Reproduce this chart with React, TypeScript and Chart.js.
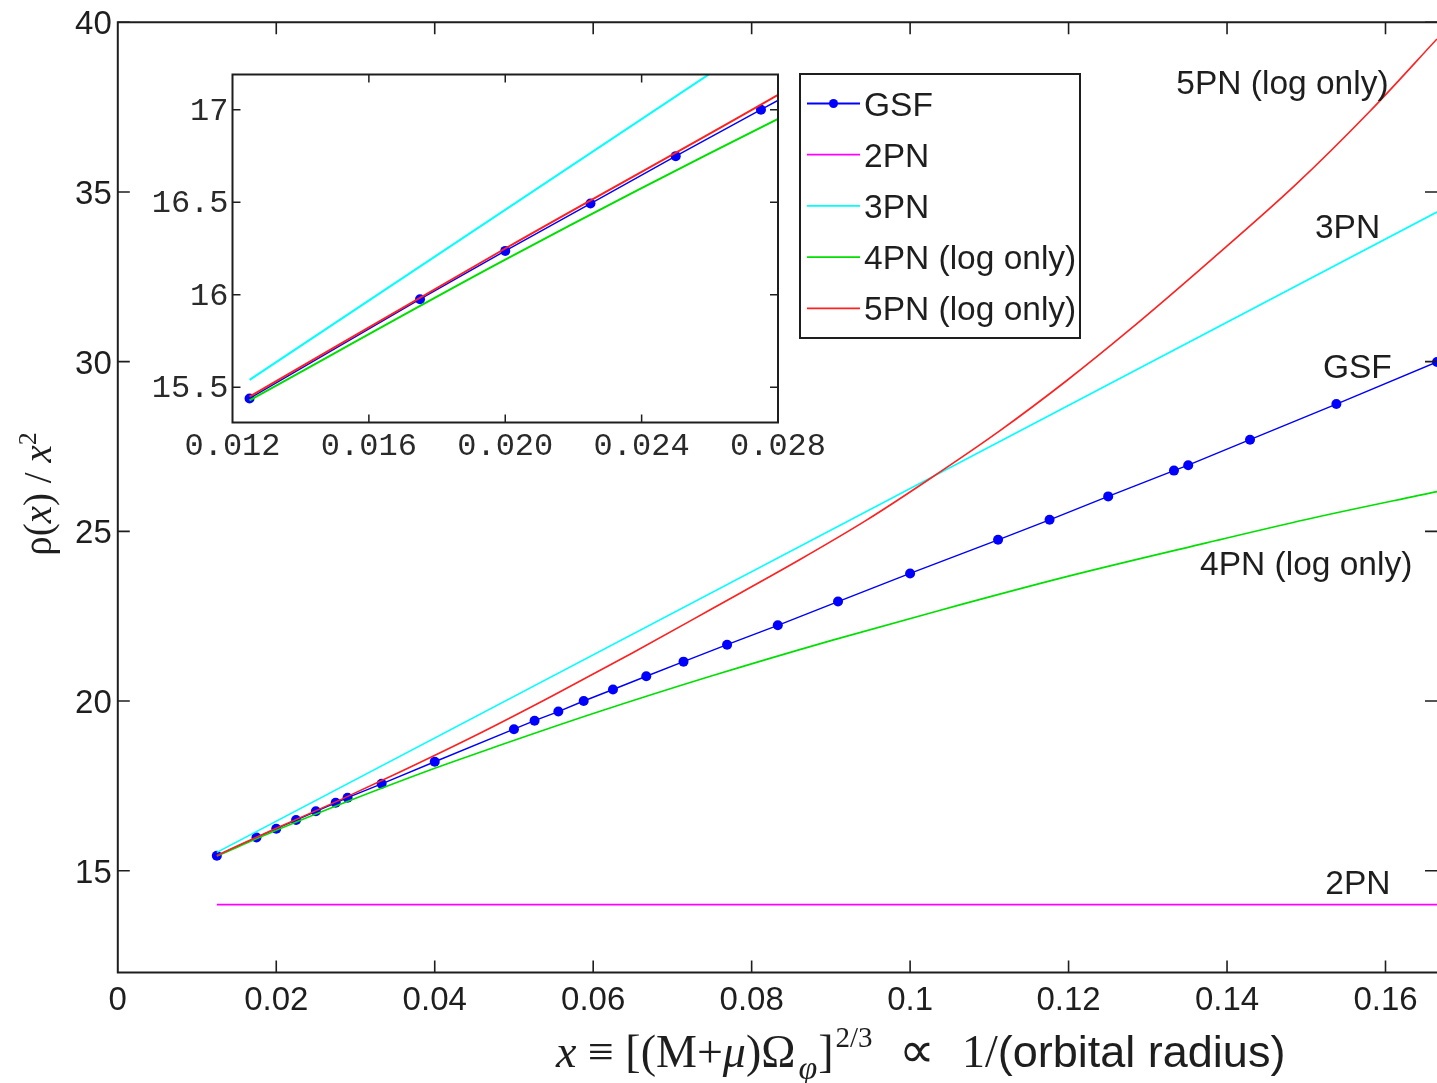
import React, { useEffect, useRef } from 'react';
import { Chart, registerables } from 'chart.js';

Chart.register(...registerables);

const W = 1437;
const H = 1083;

// ---------------- data ----------------
const GSF_X = [0.0125, 0.0175, 0.02, 0.0225, 0.025, 0.0275, 0.029, 0.0333, 0.04, 0.05, 0.0526, 0.0556, 0.0588, 0.0625, 0.0667, 0.0714, 0.0769, 0.0833, 0.0909, 0.1, 0.1111, 0.1176, 0.125, 0.1333, 0.1351, 0.1429, 0.1538, 0.1665];
const GSF_Y = [15.44, 15.976, 16.237, 16.493, 16.749, 17.0, 17.15, 17.56, 18.21, 19.17, 19.42, 19.69, 20.0, 20.34, 20.73, 21.16, 21.66, 22.23, 22.93, 23.76, 24.75, 25.34, 26.03, 26.79, 26.95, 27.7, 28.75, 29.99];

const PN2_X = [0.0125, 0.1665];
const PN2_Y = [14.0, 14.0];

const PN3_X = [0.0125, 0.1665];
const PN3_Y = [15.54, 34.41];

const PN4_X = [0.0125, 0.02, 0.028, 0.04, 0.0457, 0.06, 0.0751, 0.09, 0.1037, 0.12, 0.1374, 0.15, 0.1665];
const PN4_Y = [15.43, 16.19, 16.95, 18.02, 18.49, 19.63, 20.75, 21.78, 22.67, 23.68, 24.66, 25.35, 26.17];

const PN5_X = [0.0125, 0.02, 0.028, 0.035, 0.0457, 0.055, 0.065, 0.075, 0.0861, 0.0945, 0.1025, 0.1113, 0.1197, 0.1276, 0.138, 0.1486, 0.158, 0.1665];
const PN5_Y = [15.45, 16.25, 17.08, 17.84, 19.05, 20.17, 21.42, 22.72, 24.17, 25.33, 26.55, 27.96, 29.43, 30.92, 33.0, 35.2, 37.37, 39.51];

const SERIES_LABELS = ['GSF', '2PN', '3PN', '4PN (log only)', '5PN (log only)'];
const SERIES_COLORS = ['#0000ff', '#ff00ff', '#00ffff', '#00e000', '#ff2020'];

const MAIN_X_TICKS = [0, 0.02, 0.04, 0.06, 0.08, 0.1, 0.12, 0.14, 0.16];
const MAIN_X_TICK_LABELS = ['0', '0.02', '0.04', '0.06', '0.08', '0.1', '0.12', '0.14', '0.16'];
const MAIN_Y_TICKS = [15, 20, 25, 30, 35, 40];
const MAIN_Y_TICK_LABELS = ['15', '20', '25', '30', '35', '40'];

const INSET_X_TICKS = [0.012, 0.016, 0.02, 0.024, 0.028];
const INSET_X_TICK_LABELS = ['0.012', '0.016', '0.020', '0.024', '0.028'];
const INSET_Y_TICKS = [15.5, 16, 16.5, 17];
const INSET_Y_TICK_LABELS = ['15.5', '16', '16.5', '17'];

// curve annotations (text + anchor in data units)
const NOTE_TEXTS = ['5PN (log only)', '3PN', 'GSF', '4PN (log only)', '2PN'];
const NOTE_X = [0.1336, 0.1511, 0.1521, 0.1366, 0.1524];
const NOTE_Y = [38.24, 33.99, 29.86, 24.08, 14.68];

// ---------------- styles ----------------
const INK = '#1e1e1e';
const SANS = '"Liberation Sans", Arial, sans-serif';
const SERIF = '"Liberation Serif", "Times New Roman", serif';
const MONO = '"Liberation Mono", "Courier New", monospace';

const pts = (xs: number[], ys: number[]) => xs.map((x, i) => ({ x, y: ys[i] }));

type Piece = { t: string; f: string; dy?: number; at?: number; gap?: number };

function piecesWidth(ctx: CanvasRenderingContext2D, pieces: Piece[]) {
  let w = 0;
  for (const p of pieces) {
    ctx.font = p.f;
    w += ctx.measureText(p.t).width + (p.gap || 0);
  }
  return w;
}
function drawPieces(ctx: CanvasRenderingContext2D, pieces: Piece[], x: number, y: number) {
  let cx = x;
  for (const p of pieces) {
    if (p.at !== undefined) cx = Math.max(cx, p.at);
    ctx.font = p.f;
    ctx.fillText(p.t, cx, y + (p.dy || 0));
    cx += ctx.measureText(p.t).width + (p.gap || 0);
  }
}

function makeDatasets(inset: boolean) {
  const lw = inset ? 2 : 1.6;
  return [
    {
      label: SERIES_LABELS[0],
      data: pts(GSF_X, GSF_Y),
      borderColor: SERIES_COLORS[0],
      backgroundColor: SERIES_COLORS[0],
      borderWidth: 1.4,
      pointRadius: 5,
      pointBackgroundColor: SERIES_COLORS[0],
      pointBorderColor: SERIES_COLORS[0],
      pointBorderWidth: 0,
      order: 5,
      clip: 0,
    },
    {
      label: SERIES_LABELS[1],
      data: pts(PN2_X, PN2_Y),
      borderColor: SERIES_COLORS[1],
      borderWidth: lw,
      pointRadius: 0,
      order: 4,
      clip: 0,
    },
    {
      label: SERIES_LABELS[2],
      data: pts(PN3_X, PN3_Y),
      borderColor: SERIES_COLORS[2],
      borderWidth: lw,
      pointRadius: 0,
      order: 3,
      clip: 0,
    },
    {
      label: SERIES_LABELS[3],
      data: pts(PN4_X, PN4_Y),
      borderColor: SERIES_COLORS[3],
      borderWidth: lw,
      pointRadius: 0,
      cubicInterpolationMode: 'monotone',
      order: 2,
      clip: 0,
    },
    {
      label: SERIES_LABELS[4],
      data: pts(PN5_X, PN5_Y),
      borderColor: SERIES_COLORS[4],
      borderWidth: lw,
      pointRadius: 0,
      cubicInterpolationMode: 'monotone',
      order: 1,
      clip: 0,
    },
  ];
}

const mainDeco = {
  id: 'mainDeco',
  beforeDraw(chart: any) {
    const { ctx, width, height } = chart;
    ctx.save();
    ctx.fillStyle = '#ffffff';
    ctx.fillRect(0, 0, width, height);
    ctx.restore();
  },
  afterDraw(chart: any) {
    const { ctx, chartArea: a } = chart;
    const xs = chart.scales.x;
    const ys = chart.scales.y;
    const TL = 12;
    ctx.save();
    // frame
    ctx.strokeStyle = INK;
    ctx.lineWidth = 2;
    ctx.beginPath();
    ctx.moveTo(W + 2, a.top);
    ctx.lineTo(a.left, a.top);
    ctx.lineTo(a.left, a.bottom);
    ctx.lineTo(W + 2, a.bottom);
    ctx.stroke();
    // ticks
    ctx.lineWidth = 1.6;
    ctx.beginPath();
    MAIN_X_TICKS.forEach((v) => {
      const px = xs.getPixelForValue(v);
      if (px - a.left < 2) return;
      ctx.moveTo(px, a.bottom);
      ctx.lineTo(px, a.bottom - TL);
      ctx.moveTo(px, a.top);
      ctx.lineTo(px, a.top + TL);
    });
    MAIN_Y_TICKS.forEach((v) => {
      const py = ys.getPixelForValue(v);
      ctx.moveTo(a.left, py);
      ctx.lineTo(a.left + TL, py);
      ctx.moveTo(a.right, py);
      ctx.lineTo(a.right - TL, py);
    });
    ctx.stroke();

    // tick labels
    ctx.fillStyle = INK;
    ctx.font = `33px ${SANS}`;
    ctx.textBaseline = 'alphabetic';
    ctx.textAlign = 'center';
    MAIN_X_TICKS.forEach((v, i) => {
      const px = xs.getPixelForValue(v);
      ctx.fillText(MAIN_X_TICK_LABELS[i], px, a.bottom + 37);
    });
    ctx.textAlign = 'right';
    MAIN_Y_TICKS.forEach((v, i) => {
      const py = ys.getPixelForValue(v);
      ctx.fillText(MAIN_Y_TICK_LABELS[i], a.left - 6, py + 12);
    });

    // curve annotations
    ctx.textAlign = 'left';
    ctx.font = `33.5px ${SANS}`;
    NOTE_TEXTS.forEach((t, i) => {
      const px = xs.getPixelForValue(NOTE_X[i]);
      const py = ys.getPixelForValue(NOTE_Y[i]);
      ctx.fillText(t, px, py + 12);
    });

    // x-axis title
    const F = 46;
    const xTitle: Piece[] = [
      { t: 'x', f: `italic ${F}px ${SERIF}` },
      { t: ' ≡ [(M+', f: `${F}px ${SERIF}` },
      { t: 'μ', f: `italic ${F}px ${SERIF}` },
      { t: ')Ω', f: `${F}px ${SERIF}`, gap: 3 },
      { t: 'φ', f: `italic 34px ${SERIF}`, dy: 12, gap: 1 },
      { t: ']', f: `${F}px ${SERIF}`, gap: 2 },
      { t: '2/3', f: `29px ${SERIF}`, dy: -20 },
      { t: '∝', f: `50px ${SERIF}`, at: 899 },
      { t: '1/', f: `${F}px ${SERIF}`, at: 962 },
      { t: '(orbital radius)', f: `45px ${SANS}`, at: 996 },
    ];
    ctx.textAlign = 'left';
    drawPieces(ctx, xTitle, 556, 1067);

    // y-axis title (rotated)
    const yTitle: Piece[] = [
      { t: 'ρ(', f: `39px ${SERIF}` },
      { t: 'x', f: `italic 39px ${SERIF}` },
      { t: ') / ', f: `39px ${SERIF}` },
      { t: 'x', f: `italic 39px ${SERIF}` },
      { t: '2', f: `26px ${SERIF}`, dy: -15 },
    ];
    ctx.save();
    ctx.translate(51, 494);
    ctx.rotate(-Math.PI / 2);
    const yw = piecesWidth(ctx, yTitle);
    drawPieces(ctx, yTitle, -yw / 2, 0);
    ctx.restore();

    // legend
    const LX = 800, LY = 74, LW = 280, LH = 264;
    ctx.fillStyle = '#ffffff';
    ctx.fillRect(LX, LY, LW, LH);
    ctx.strokeStyle = INK;
    ctx.lineWidth = 2;
    ctx.strokeRect(LX, LY, LW, LH);
    const ds = chart.data.datasets;
    ds.forEach((d: any, i: number) => {
      const cy = 103.5 + i * 51.2;
      ctx.strokeStyle = d.borderColor;
      ctx.lineWidth = 1.8;
      ctx.beginPath();
      ctx.moveTo(807, cy);
      ctx.lineTo(860, cy);
      ctx.stroke();
      if (i === 0) {
        ctx.fillStyle = d.borderColor;
        ctx.beginPath();
        ctx.arc(833.5, cy, 4.5, 0, Math.PI * 2);
        ctx.fill();
      }
      ctx.fillStyle = INK;
      ctx.font = `33.5px ${SANS}`;
      ctx.textAlign = 'left';
      ctx.fillText(d.label, 864, cy + 12);
    });
    ctx.restore();
  },
};

const insetDeco = {
  id: 'insetDeco',
  beforeDatasetsDraw(chart: any) {
    const { ctx, chartArea: a } = chart;
    ctx.save();
    ctx.fillStyle = '#ffffff';
    ctx.fillRect(a.left, a.top, a.right - a.left, a.bottom - a.top);
    ctx.restore();
  },
  afterDraw(chart: any) {
    const { ctx, chartArea: a } = chart;
    const xs = chart.scales.x;
    const ys = chart.scales.y;
    const TL = 8;
    ctx.save();
    ctx.strokeStyle = INK;
    ctx.lineWidth = 2;
    ctx.strokeRect(a.left, a.top, a.right - a.left, a.bottom - a.top);
    ctx.lineWidth = 1.5;
    ctx.beginPath();
    INSET_X_TICKS.forEach((v) => {
      const px = xs.getPixelForValue(v);
      if (px - a.left < 2 || a.right - px < 2) return;
      ctx.moveTo(px, a.bottom);
      ctx.lineTo(px, a.bottom - TL);
      ctx.moveTo(px, a.top);
      ctx.lineTo(px, a.top + TL);
    });
    INSET_Y_TICKS.forEach((v) => {
      const py = ys.getPixelForValue(v);
      ctx.moveTo(a.left, py);
      ctx.lineTo(a.left + TL, py);
      ctx.moveTo(a.right, py);
      ctx.lineTo(a.right - TL, py);
    });
    ctx.stroke();

    ctx.fillStyle = '#2a2a2a';
    ctx.font = `32px ${MONO}`;
    ctx.textAlign = 'center';
    INSET_X_TICKS.forEach((v, i) => {
      const px = xs.getPixelForValue(v);
      ctx.fillText(INSET_X_TICK_LABELS[i], px, a.bottom + 32);
    });
    ctx.textAlign = 'right';
    INSET_Y_TICKS.forEach((v, i) => {
      const py = ys.getPixelForValue(v);
      ctx.fillText(INSET_Y_TICK_LABELS[i], a.left - 4, py + 10);
    });
    ctx.restore();
  },
};

export default function App() {
  const mainRef = useRef<HTMLCanvasElement | null>(null);
  const insetRef = useRef<HTMLCanvasElement | null>(null);

  useEffect(() => {
    const main = new Chart(mainRef.current as HTMLCanvasElement, {
      type: 'line',
      data: { datasets: makeDatasets(false) as any },
      options: {
        responsive: false,
        animation: false,
        events: [],
        layout: { autoPadding: false, padding: { left: 117.8, top: 22.3, right: 0, bottom: H - 972.5 } },
        plugins: { legend: { display: false }, tooltip: { enabled: false }, title: { display: false } },
        scales: {
          x: { type: 'linear', min: 0, max: 0.1665, display: false },
          y: { type: 'linear', min: 12, max: 40, display: false },
        },
      },
      plugins: [mainDeco],
    });
    const inset = new Chart(insetRef.current as HTMLCanvasElement, {
      type: 'line',
      data: { datasets: makeDatasets(true) as any },
      options: {
        responsive: false,
        animation: false,
        events: [],
        layout: { autoPadding: false, padding: { left: 232.5, top: 74.5, right: W - 778, bottom: H - 422.5 } },
        plugins: { legend: { display: false }, tooltip: { enabled: false }, title: { display: false } },
        scales: {
          x: { type: 'linear', min: 0.012, max: 0.028, display: false },
          y: { type: 'linear', min: 15.31, max: 17.19, display: false },
        },
      },
      plugins: [insetDeco],
    });
    return () => {
      main.destroy();
      inset.destroy();
    };
  }, []);

  return (
    <div style={{ position: 'fixed', left: 0, top: 0, width: W, height: H, background: '#fff', overflow: 'hidden' }}>
      <canvas ref={mainRef} width={W} height={H} style={{ position: 'absolute', left: 0, top: 0, width: W, height: H }} />
      <canvas ref={insetRef} width={W} height={H} style={{ position: 'absolute', left: 0, top: 0, width: W, height: H }} />
    </div>
  );
}
